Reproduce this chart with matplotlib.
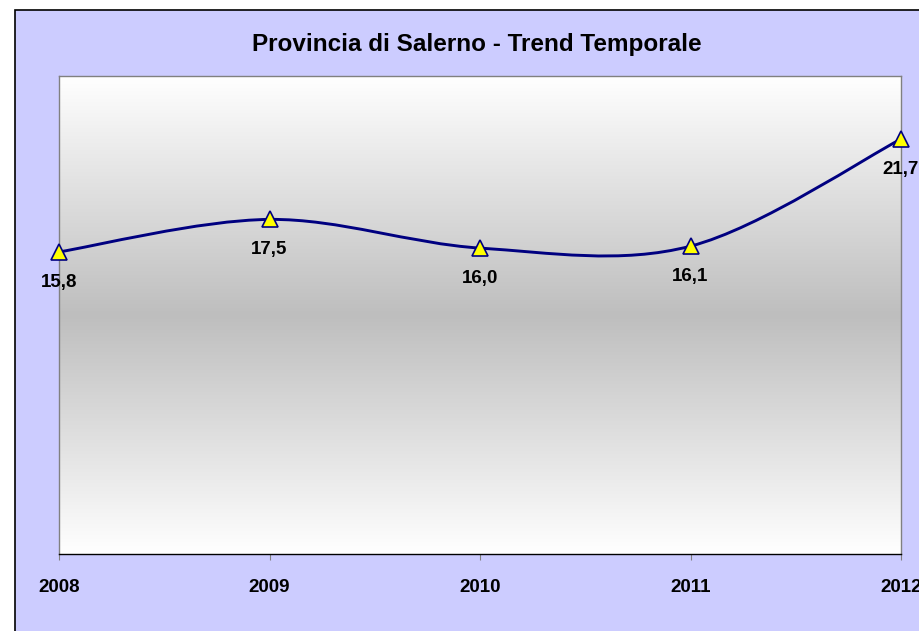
import numpy as np
import matplotlib
matplotlib.use("Agg")
import matplotlib.pyplot as plt
from matplotlib.path import Path
from matplotlib.patches import PathPatch, Rectangle
from matplotlib.colors import LinearSegmentedColormap

years = [2008, 2009, 2010, 2011, 2012]
values = [15.8, 17.5, 16.0, 16.1, 21.7]
labels = ["15,8", "17,5", "16,0", "16,1", "21,7"]
title = "Provincia di Salerno - Trend Temporale"

W, H = 919, 631
plt.rcParams["font.family"] = ["Liberation Sans", "DejaVu Sans"]

fig = plt.figure(figsize=(W / 100, H / 100), dpi=100)
fig.patch.set_facecolor("white")

# riquadro del grafico (tagliato a destra e in basso)
fig.patches.append(Rectangle((15 / W, -0.1), 1.2, 1 - 10 / H + 0.1,
                             transform=fig.transFigure, facecolor="#CCCCFF",
                             edgecolor="black", lw=1.2, zorder=-5))

ax = fig.add_axes([59 / W, 1 - 554 / H, (901 - 59) / W, (554 - 76) / H])
ax.set_xlim(2008, 2012)
ax.set_ylim(0, 25)

# sfondo sfumato bianco -> grigio -> bianco
cmap = LinearSegmentedColormap.from_list("g", ["#FFFFFF", "#BEBEBE", "#FFFFFF"])
grad = np.linspace(0, 1, 256).reshape(-1, 1)
ax.imshow(grad, cmap=cmap, aspect="auto", extent=(2008, 2012, 0, 25),
          origin="upper", zorder=0)

# linea smussata (Catmull-Rom -> Bezier)
x = np.array(years, float)
y = np.array(values, float)
verts = [(x[0], y[0])]
codes = [Path.MOVETO]
n = len(x)
for i in range(n - 1):
    p0 = i - 1 if i > 0 else i
    p3 = i + 2 if i + 2 < n else i + 1
    c1 = (x[i] + (x[i + 1] - x[p0]) / 6, y[i] + (y[i + 1] - y[p0]) / 6)
    c2 = (x[i + 1] - (x[p3] - x[i]) / 6, y[i + 1] - (y[p3] - y[i]) / 6)
    verts += [c1, c2, (x[i + 1], y[i + 1])]
    codes += [Path.CURVE4] * 3
ax.add_patch(PathPatch(Path(verts, codes), facecolor="none", edgecolor="#000080",
                       lw=2.1, zorder=3))

ax.plot(years, values, ls="none", marker="^", ms=12, mfc="#FFFF00", mec="#000080",
        mew=1.2, clip_on=False, zorder=4)

for xi, yi, lab in zip(years, values, labels):
    ax.annotate(lab, (xi, yi), xytext=(0, -22), textcoords="offset points",
                ha="center", va="center", fontsize=13.5, fontweight="bold",
                annotation_clip=False)

for s in ["left", "right", "top"]:
    ax.spines[s].set_color("#808080")
ax.spines["bottom"].set_color("#000000")
for s in ax.spines.values():
    s.set_linewidth(1.0)

ax.set_yticks([])
ax.set_xticks(years)
ax.set_xticklabels([str(v) for v in years], fontsize=13.5, fontweight="bold")
ax.tick_params(axis="x", direction="out", length=4, color="#808080", pad=14)

fig.text(477 / W, 1 - 45 / H, title, ha="center", va="center",
         fontsize=17.5, fontweight="bold")

fig.savefig("out.png", dpi=100)
